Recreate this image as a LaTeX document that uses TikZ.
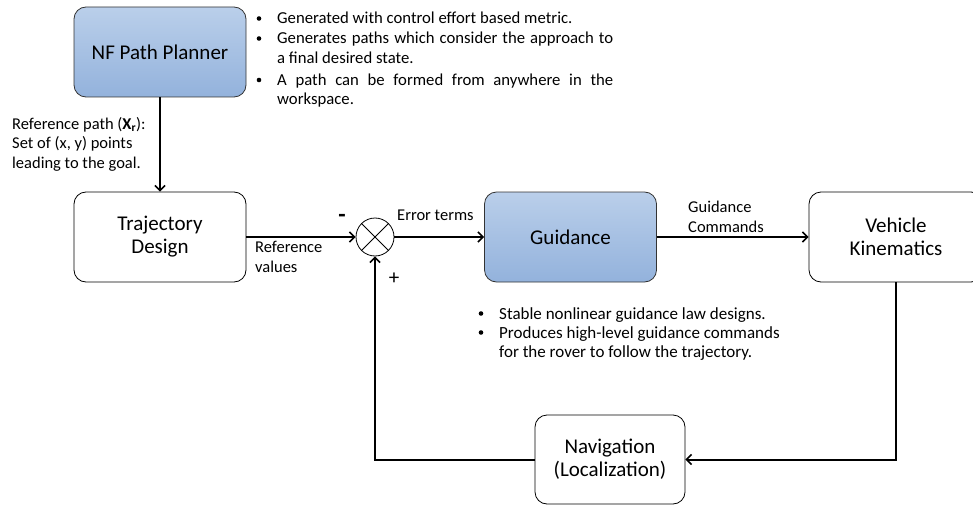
\documentclass[tikz,border=0pt]{standalone}
\usepackage{fontspec}
\setmainfont{Carlito}
\usetikzlibrary{arrows.meta}

\definecolor{blueTop}{HTML}{BACFEA}
\definecolor{blueBot}{HTML}{93B2DC}

\begin{document}
\begin{tikzpicture}[x=1pt,y=-1pt,
  blk/.style={draw=black, line width=0.8pt, rounded corners=12pt, align=center,
    font=\fontsize{21}{23}\selectfont, inner sep=0pt,
    minimum width=172pt, minimum height=90pt},
  bluefill/.style={top color=blueTop, bottom color=blueBot, draw=black!80},
  conn/.style={line width=2pt, -{Straight Barb[length=5pt,width=10pt,line width=1.6pt]}},
  lbl/.style={font=\fontsize{16.5}{19.5}\selectfont, inner sep=0pt, anchor=west, align=left},
  note/.style={font=\fontsize{16.7}{19.5}\selectfont, inner sep=0pt, anchor=base west},
  gnote/.style={note, font=\fontsize{17}{19.5}\selectfont},
  dot/.style={circle, fill=black, inner sep=0pt, minimum size=4.6pt}
]
\useasboundingbox (0,0) rectangle (973,505);

% blocks
\node[blk, bluefill] (nf) at (160,52) {NF Path Planner};
\node[blk] (traj) at (160,237) {Trajectory\\Design};
\node[blk, bluefill] (guid) at (570.5,237) {Guidance};
\node[blk, minimum width=174pt] (veh) at (896,237) {Vehicle\\Kinematics};
\node[blk, minimum width=150pt, minimum height=89pt] (nav) at (610,459.5) {Navigation\\(Localization)};

% summing junction
\node[draw=black, line width=0.8pt, circle, minimum size=38pt, inner sep=0pt] (sum) at (375,237) {};
\draw[line width=0.8pt] (sum.north west) -- (sum.south east);
\draw[line width=0.8pt] (sum.north east) -- (sum.south west);

% connectors
\draw[conn] (nf) -- (traj);
\draw[conn] (traj) -- (sum);
\draw[conn] (sum) -- (guid);
\draw[conn] (guid) -- (veh);
\draw[conn] (veh.south) |- (nav.east);
\draw[conn] (nav.west) -| (sum.south);

% signs at the junction
\node[inner sep=0pt, font=\fontsize{24}{24}\selectfont\bfseries] (minus) at (342,218) {-};
\node[inner sep=0pt, font=\fontsize{21}{22}\selectfont] (plus) at (394,279) {+};

% connector labels
\node[lbl] (ref) at (12,144) {Reference path ($\mathbf{X_r}$):\\Set of (x, y) points\\leading to the goal.};
\node[lbl] (refval) at (255,257) {Reference\\values};
\node[lbl] (err) at (397,215) {Error terms};
\node[lbl] (gcmd) at (688,217) {Guidance\\Commands};

% planner notes (text positions are baselines)
\node[dot] (b1) at (259,18.5) {};
\node[dot] (b2) at (259,38.5) {};
\node[dot] (b3) at (259,80) {};
\node[note] (t1) at (277,24) {Generated with control effort based metric.};
\node[note] (t2) at (277,44) {\makebox[336pt][s]{Generates paths which consider the approach to}};
\node[note] (t3) at (277,64) {a final desired state.};
\node[note] (t4) at (277,85.5) {\makebox[336pt][s]{A path can be formed from anywhere in the}};
\node[note] (t5) at (277,105) {workspace.};

% guidance notes (text positions are baselines)
\node[dot] (c1) at (481,313.5) {};
\node[dot] (c2) at (481,332.5) {};
\node[gnote] (u1) at (499,319) {Stable nonlinear guidance law designs.};
\node[gnote] (u2) at (499,338) {Produces high-level guidance commands};
\node[gnote] (u3) at (499,357) {for the rover to follow the trajectory.};
\end{tikzpicture}
\end{document}
